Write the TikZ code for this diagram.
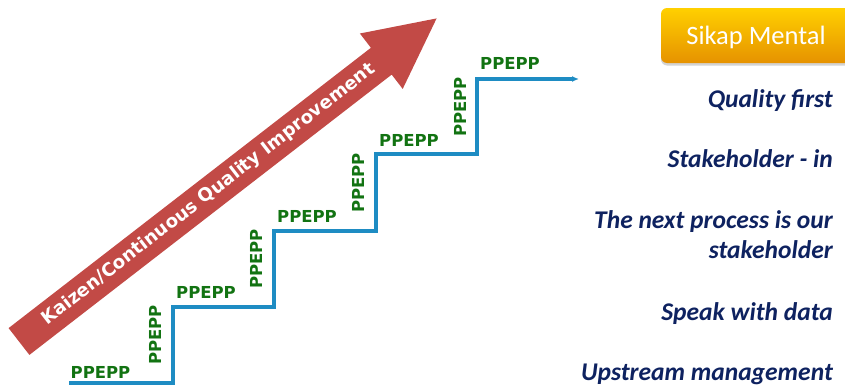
\documentclass[tikz,border=0pt]{standalone}
\usepackage{fontspec}
\setmainfont{Carlito}
\newfontfamily\djv{DejaVu Sans}
\usetikzlibrary{arrows.meta,shadows}
\definecolor{stairblue}{RGB}{30,140,195}
\definecolor{arrowred}{RGB}{194,74,70}
\definecolor{ppgreen}{RGB}{18,115,18}
\definecolor{navy}{RGB}{14,34,96}
\definecolor{boxtop}{RGB}{255,208,0}
\definecolor{boxbot}{RGB}{230,146,0}
\begin{document}
\begin{tikzpicture}[x=1pt,y=-1pt,
  pp/.style={font=\djv\bfseries\fontsize{16.5}{18}\selectfont, text=ppgreen, inner sep=0pt},
  ppv/.style={pp, rotate=90},
  stair/.style={draw=stairblue, line width=3.2pt, line join=miter, -{Latex[length=7pt,width=6pt]}},
  mental/.style={font=\bfseries\itshape\fontsize{25.5}{28}\selectfont, text=navy, anchor=base east, inner sep=0pt},
  sikapbox/.style={rounded corners=6pt, top color=boxtop, bottom color=boxbot, draw=none,
     minimum width=190pt, minimum height=55pt, inner sep=0pt,
     drop shadow={shadow xshift=0pt, shadow yshift=-2.5pt, opacity=0.35}},
]
\useasboundingbox (0,0) rectangle (845,386);

% big red arrow
\fill[arrowred] (8.6,328.1) -- (370.9,47.8) -- (359.9,33.5) -- (436.6,18.4)
   -- (402.7,88.9) -- (391.7,74.6) -- (29.4,354.9) -- cycle;
\node[font=\djv\bfseries\fontsize{18.2}{20}\selectfont, text=white, rotate=37.73, inner sep=0pt]
   (kaizen) at (208.8,194.6) {Kaizen/Continuous Quality Improvement};

% staircase
\coordinate (s0) at (69,383);
\coordinate (s1) at (173,383);
\coordinate (s2) at (173,307);
\coordinate (s3) at (274,307);
\coordinate (s4) at (274,231);
\coordinate (s5) at (376,231);
\coordinate (s6) at (376,154);
\coordinate (s7) at (477,154);
\coordinate (s8) at (477,79);
\coordinate (s9) at (579,79);
\draw[stair] (s0) -- (s1) -- (s2) -- (s3) -- (s4) -- (s5) -- (s6) -- (s7) -- (s8) -- (s9);

% step labels
\node[pp] (h1) at (100.5,372) {PPEPP};
\node[pp] (h2) at (206,292) {PPEPP};
\node[pp] (h3) at (307,216) {PPEPP};
\node[pp] (h4) at (409,140) {PPEPP};
\node[pp] (h5) at (510,63) {PPEPP};
\node[ppv] (v1) at (155,335) {PPEPP};
\node[ppv] (v2) at (256,259) {PPEPP};
\node[ppv] (v3) at (358,183) {PPEPP};
\node[ppv] (v4) at (460,107) {PPEPP};

% Sikap Mental box
\node[sikapbox] (sikap) at (756,35.5) {};
\node[anchor=base, inner sep=0pt, text=white, font=\fontsize{26.5}{28}\selectfont] (sikaptext) at (756,44) {Sikap Mental};

% mental attitudes
\node[mental] (m1) at (833,107) {Quality first};
\node[mental] (m2) at (833,167) {Stakeholder - in};
\node[mental] (m3) at (833,228) {The next process is our};
\node[mental] (m3b) at (833,258) {stakeholder};
\node[mental] (m4) at (833,320) {Speak with data};
\node[mental] (m5) at (833,380) {Upstream management};
\end{tikzpicture}
\end{document}
